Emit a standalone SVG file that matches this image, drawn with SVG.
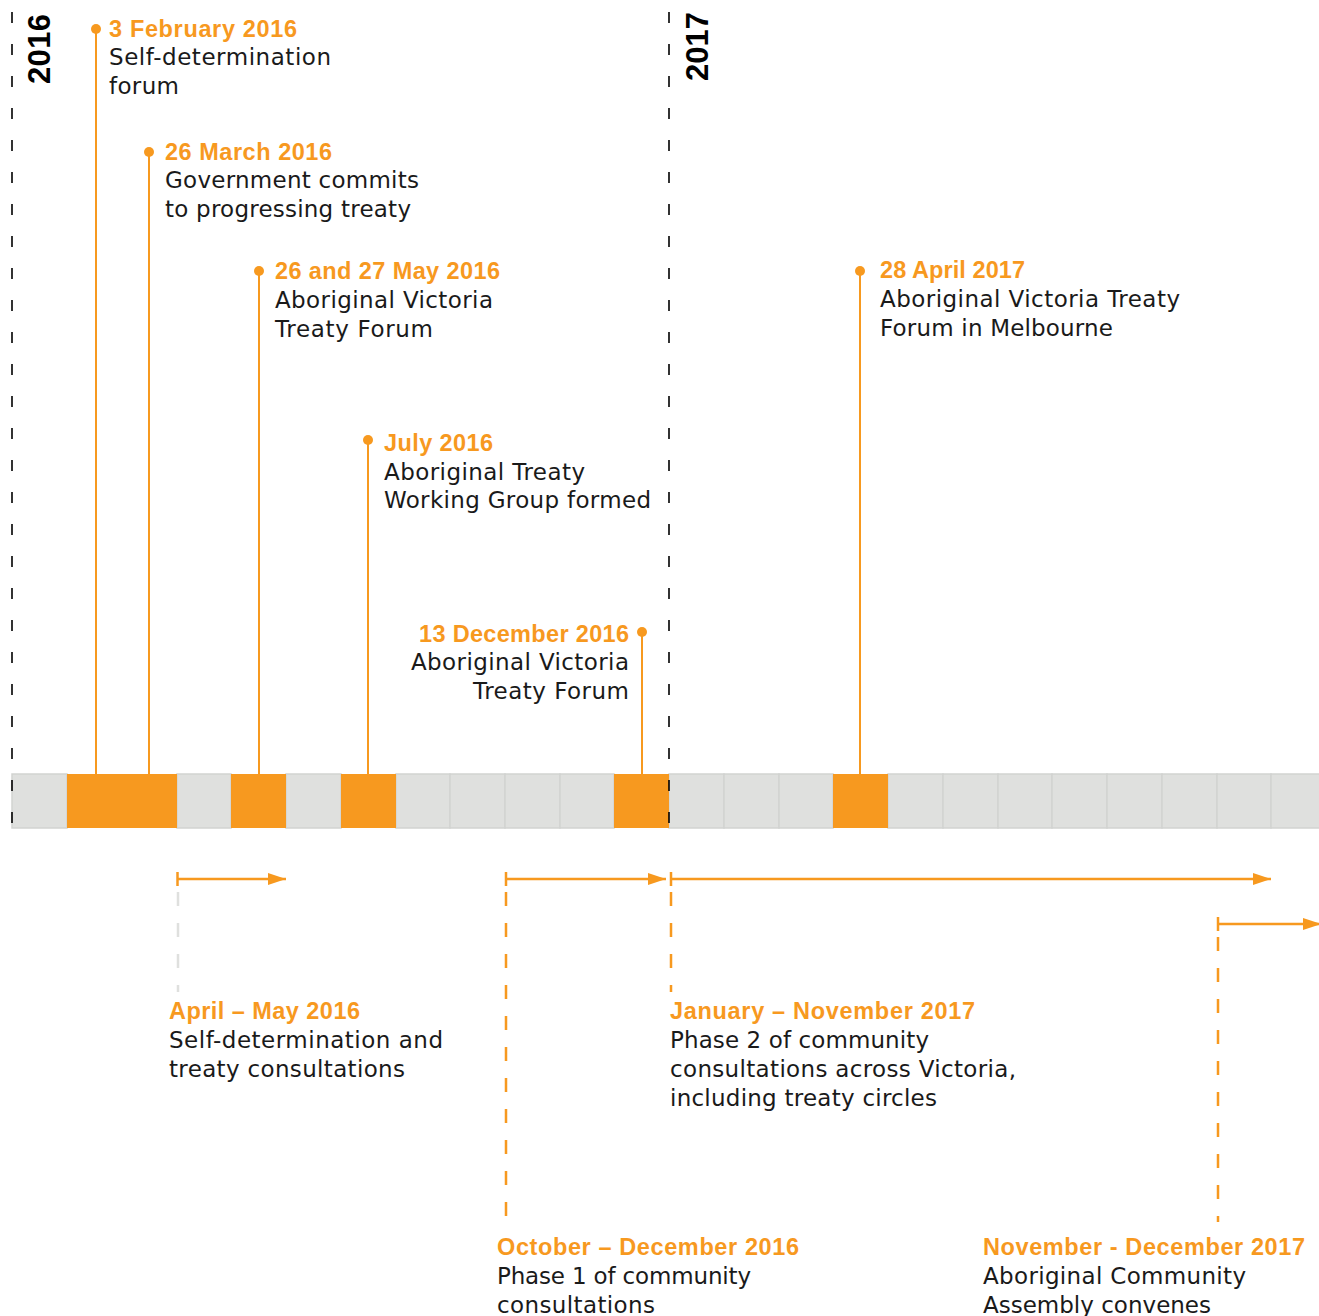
<svg xmlns="http://www.w3.org/2000/svg" width="1319" height="1316" viewBox="0 0 1319 1316">
<defs>
<style>
.yr{font-family:"Liberation Sans",Arial,sans-serif;font-weight:bold;font-size:31px;fill:#000}
.dt{font-family:"Liberation Sans",Arial,sans-serif;font-weight:bold;font-size:23.5px;fill:#f7991f}
.tx{font-family:"DejaVu Sans","Liberation Sans",sans-serif;font-size:23px;fill:#1a1a1a}
.yl{stroke:#000;stroke-width:1.6;stroke-dasharray:11 21;fill:none}
.stem{stroke:#f7991f;stroke-width:2;fill:none}
.dot{fill:#f7991f}
.cell{fill:#dfe0de;stroke:#d2d3d1;stroke-width:1.5}
.on{fill:#f7991f}
.span{stroke:#f7991f;stroke-width:2.5;fill:none}
.odash{stroke:#f7991f;stroke-width:2.5;stroke-dasharray:14 17;fill:none}
.gdash{stroke:#dfe0de;stroke-width:2.5;stroke-dasharray:14 17;fill:none}
</style>
<marker id="ah" markerWidth="18" markerHeight="12" refX="18" refY="6" orient="auto" markerUnits="userSpaceOnUse">
<path d="M0,0 L18,6 L0,12 Z" fill="#f7991f"/>
</marker>
</defs>
<rect width="1319" height="1316" fill="#fff"/>

<g id="timeline-bar">
<rect class="cell" x="12" y="774" width="55" height="54"/>
<rect class="cell" x="177" y="774" width="54" height="54"/>
<rect class="cell" x="286" y="774" width="55" height="54"/>
<rect class="cell" x="396" y="774" width="54" height="54"/>
<rect class="cell" x="450" y="774" width="55" height="54"/>
<rect class="cell" x="505" y="774" width="55" height="54"/>
<rect class="cell" x="560" y="774" width="54" height="54"/>
<rect class="cell" x="669" y="774" width="55" height="54"/>
<rect class="cell" x="724" y="774" width="55" height="54"/>
<rect class="cell" x="779" y="774" width="54" height="54"/>
<rect class="cell" x="888" y="774" width="55" height="54"/>
<rect class="cell" x="943" y="774" width="55" height="54"/>
<rect class="cell" x="998" y="774" width="54" height="54"/>
<rect class="cell" x="1052" y="774" width="55" height="54"/>
<rect class="cell" x="1107" y="774" width="55" height="54"/>
<rect class="cell" x="1162" y="774" width="55" height="54"/>
<rect class="cell" x="1217" y="774" width="54" height="54"/>
<rect class="cell" x="1271" y="774" width="55" height="54"/>
<rect class="on" x="67" y="774" width="110" height="54"/>
<rect class="on" x="231" y="774" width="55" height="54"/>
<rect class="on" x="341" y="774" width="55" height="54"/>
<rect class="on" x="614" y="774" width="55" height="54"/>
<rect class="on" x="833" y="774" width="55" height="54"/>
</g>

<g id="year-2016">
<line class="yl" x1="12" y1="12" x2="12" y2="830"/>
<text class="yr" transform="translate(50,84) rotate(-90)" textLength="70">2016</text>
</g>
<g id="year-2017">
<line class="yl" x1="669" y1="12" x2="669" y2="830"/>
<text class="yr" transform="translate(708,81) rotate(-90)" textLength="69">2017</text>
</g>

<g id="connectors">
<line class="stem" x1="96" y1="29" x2="96" y2="774"/>
<line class="stem" x1="149" y1="152" x2="149" y2="774"/>
<line class="stem" x1="259" y1="271" x2="259" y2="774"/>
<line class="stem" x1="368" y1="440" x2="368" y2="774"/>
<line class="stem" x1="642" y1="632" x2="642" y2="774"/>
<line class="stem" x1="860" y1="271" x2="860" y2="774"/>
<circle class="dot" cx="96" cy="29" r="5"/>
<circle class="dot" cx="149" cy="152" r="5"/>
<circle class="dot" cx="259" cy="271" r="5"/>
<circle class="dot" cx="368" cy="440" r="5"/>
<circle class="dot" cx="642" cy="632" r="5"/>
<circle class="dot" cx="860" cy="271" r="5"/>

<line class="span" x1="177" y1="879" x2="286" y2="879" marker-end="url(#ah)"/>
<line class="span" x1="177.5" y1="872" x2="177.5" y2="886"/>
<line class="gdash" x1="178" y1="892" x2="178" y2="992"/>

<line class="span" x1="506" y1="879" x2="666" y2="879" marker-end="url(#ah)"/>
<line class="span" x1="506" y1="872" x2="506" y2="886"/>
<line class="odash" x1="506" y1="892" x2="506" y2="1222"/>

<line class="span" x1="671" y1="879" x2="1271" y2="879" marker-end="url(#ah)"/>
<line class="span" x1="671" y1="872" x2="671" y2="886"/>
<line class="odash" x1="671" y1="892" x2="671" y2="992"/>

<line class="span" x1="1218" y1="924" x2="1321" y2="924" marker-end="url(#ah)"/>
<line class="span" x1="1218" y1="917" x2="1218" y2="931"/>
<line class="odash" x1="1218" y1="937" x2="1218" y2="1222"/>
</g>

<g id="event-feb-2016">
<text class="dt" x="109" y="37" textLength="188">3 February 2016</text>
<text class="tx" x="109" y="65" textLength="222">Self-determination</text>
<text class="tx" x="109" y="94" textLength="70">forum</text>
</g>
<g id="event-mar-2016">
<text class="dt" x="165" y="160" textLength="167">26 March 2016</text>
<text class="tx" x="165" y="188" textLength="254">Government commits</text>
<text class="tx" x="165" y="217" textLength="246">to progressing treaty</text>
</g>
<g id="event-may-2016">
<text class="dt" x="275" y="279" textLength="225">26 and 27 May 2016</text>
<text class="tx" x="275" y="308" textLength="218">Aboriginal Victoria</text>
<text class="tx" x="275" y="337" textLength="158">Treaty Forum</text>
</g>
<g id="event-jul-2016">
<text class="dt" x="384" y="451" textLength="109">July 2016</text>
<text class="tx" x="384" y="480" textLength="201">Aboriginal Treaty</text>
<text class="tx" x="384" y="508" textLength="267">Working Group formed</text>
</g>
<g id="event-dec-2016">
<text class="dt" x="419" y="642" textLength="210">13 December 2016</text>
<text class="tx" x="411" y="670" textLength="218">Aboriginal Victoria</text>
<text class="tx" x="473" y="699" textLength="156">Treaty Forum</text>
</g>
<g id="event-apr-2017">
<text class="dt" x="880" y="278" textLength="145">28 April 2017</text>
<text class="tx" x="880" y="307" textLength="300">Aboriginal Victoria Treaty</text>
<text class="tx" x="880" y="336" textLength="233">Forum in Melbourne</text>
</g>

<g id="period-apr-may-2016">
<text class="dt" x="169" y="1019" textLength="191">April – May 2016</text>
<text class="tx" x="169" y="1048" textLength="274">Self-determination and</text>
<text class="tx" x="169" y="1077" textLength="236">treaty consultations</text>
</g>
<g id="period-oct-dec-2016">
<text class="dt" x="497" y="1255" textLength="302">October – December 2016</text>
<text class="tx" x="497" y="1284" textLength="254">Phase 1 of community</text>
<text class="tx" x="497" y="1313" textLength="158">consultations</text>
</g>
<g id="period-jan-nov-2017">
<text class="dt" x="670" y="1019" textLength="305">January – November 2017</text>
<text class="tx" x="670" y="1048" textLength="259">Phase 2 of community</text>
<text class="tx" x="670" y="1077" textLength="346">consultations across Victoria,</text>
<text class="tx" x="670" y="1106" textLength="267">including treaty circles</text>
</g>
<g id="period-nov-dec-2017">
<text class="dt" x="983" y="1255" textLength="322">November - December 2017</text>
<text class="tx" x="983" y="1284" textLength="263">Aboriginal Community</text>
<text class="tx" x="983" y="1313" textLength="228">Assembly convenes</text>
</g>
</svg>
